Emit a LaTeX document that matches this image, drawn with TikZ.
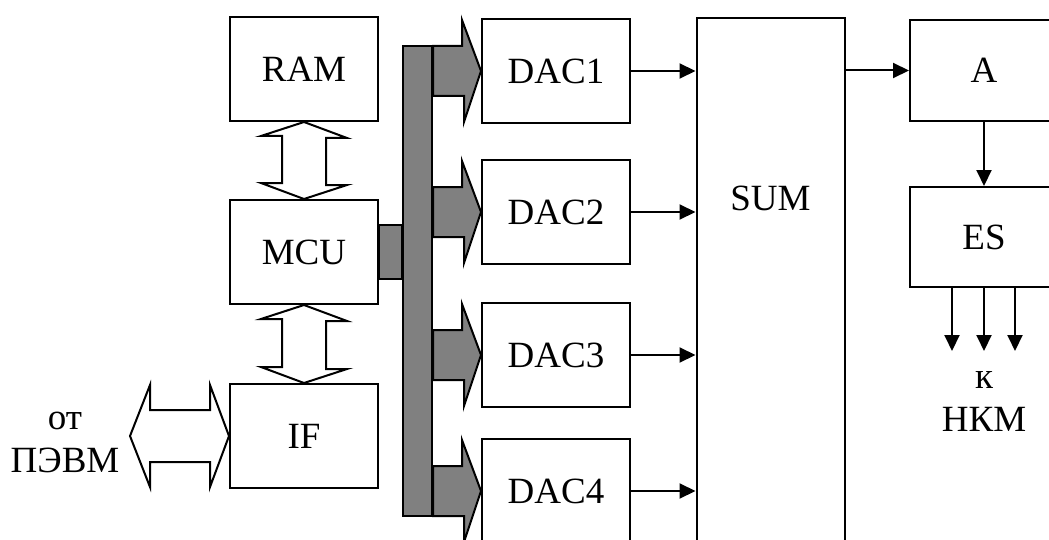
\documentclass[tikz,border=0pt]{standalone}
\usepackage{fontspec}
\setmainfont{Liberation Serif}
\usetikzlibrary{arrows.meta,calc}

\begin{document}
\begin{tikzpicture}[
    x=0.5pt, y=-0.5pt,
    line width=1pt,
    font=\fontsize{18.5}{21.5}\selectfont,
    box/.style={draw, minimum width=74pt, minimum height=52pt, inner sep=0pt},
    link/.style={-{Triangle[length=8pt, width=7.5pt]}},
    hollow/.style={draw, fill=white, line join=miter},
    busfill/.style={draw, fill=gray, line join=miter}
]
\useasboundingbox (0,0) rectangle (1049,540);
\clip (0,0) rectangle (1049,540);

% left column
\node[box] (ram) at (304,69) {RAM};
\node[box] (mcu) at (304,252) {MCU};
\node[box] (ifc) at (304,436) {IF};
\node[align=center] (pc) at (65,442) {от\\ПЭВМ};

% converters
\node[box] (dac1) at (556,71) {DAC1};
\node[box] (dac2) at (556,212) {DAC2};
\node[box] (dac3) at (556,355) {DAC3};
\node[box] (dac4) at (556,491) {DAC4};

% output side
\node[box, minimum height=290pt, anchor=north] (sum) at (770.5,17) {};
\node (sumtext) at ($(sum.north)+(0,181)$) {SUM};
\node[box, minimum height=50.5pt] (a) at (984,70.5) {A};
\node[box, minimum height=50pt] (es) at (984,237) {ES};
\node[align=center] (nkm) at (984,402) {к\\НКМ};

% bus
\node[busfill, minimum width=14.5pt, minimum height=235pt, inner sep=0pt] (bus) at (417.5,281) {};
\draw[busfill] ($(mcu.east)+(0,-27)$) rectangle ($(mcu.east -| bus.west)+(0,27)$);
\foreach \d in {dac1,dac2,dac3,dac4}
  \draw[busfill] (\d.west) -- ++(-19,-51) -- ++(0,26) -- ($(\d.west -| bus.east)+(0,-25)$)
    -- ++(0,50) -- ++(31,0) -- ++(0,26) -- cycle;

% hollow double arrows
\draw[hollow] (ram.south) -- ++(43,16) -- ++(-21,0) -- ++(0,47) -- ++(21,0) -- (mcu.north)
  -- ++(-43,-16) -- ++(21,0) -- ++(0,-47) -- ++(-21,0) -- cycle;
\draw[hollow] (mcu.south) -- ++(43,16) -- ++(-21,0) -- ++(0,48) -- ++(21,0) -- (ifc.north)
  -- ++(-43,-16) -- ++(21,0) -- ++(0,-48) -- ++(-21,0) -- cycle;
\draw[hollow] (ifc.west) -- ++(-19,-51) -- ++(0,25) -- ++(-60,0) -- ++(0,-25) -- ++(-20,51)
  -- ++(20,51) -- ++(0,-25) -- ++(60,0) -- ++(0,25) -- cycle;

% signal lines
\draw[link] (dac1.east) -- (dac1.east -| sum.west);
\draw[link] (dac2.east) -- (dac2.east -| sum.west);
\draw[link] (dac3.east) -- (dac3.east -| sum.west);
\draw[link] (dac4.east) -- (dac4.east -| sum.west);
\draw[link] (a.west -| sum.east) -- (a.west);
\draw[link] (a) -- (es);
\draw[link] ($(es.south)+(-32,0)$) -- ++(0,63);
\draw[link] (es.south) -- ++(0,63);
\draw[link] ($(es.south)+(31,0)$) -- ++(0,63);
\end{tikzpicture}
\end{document}
